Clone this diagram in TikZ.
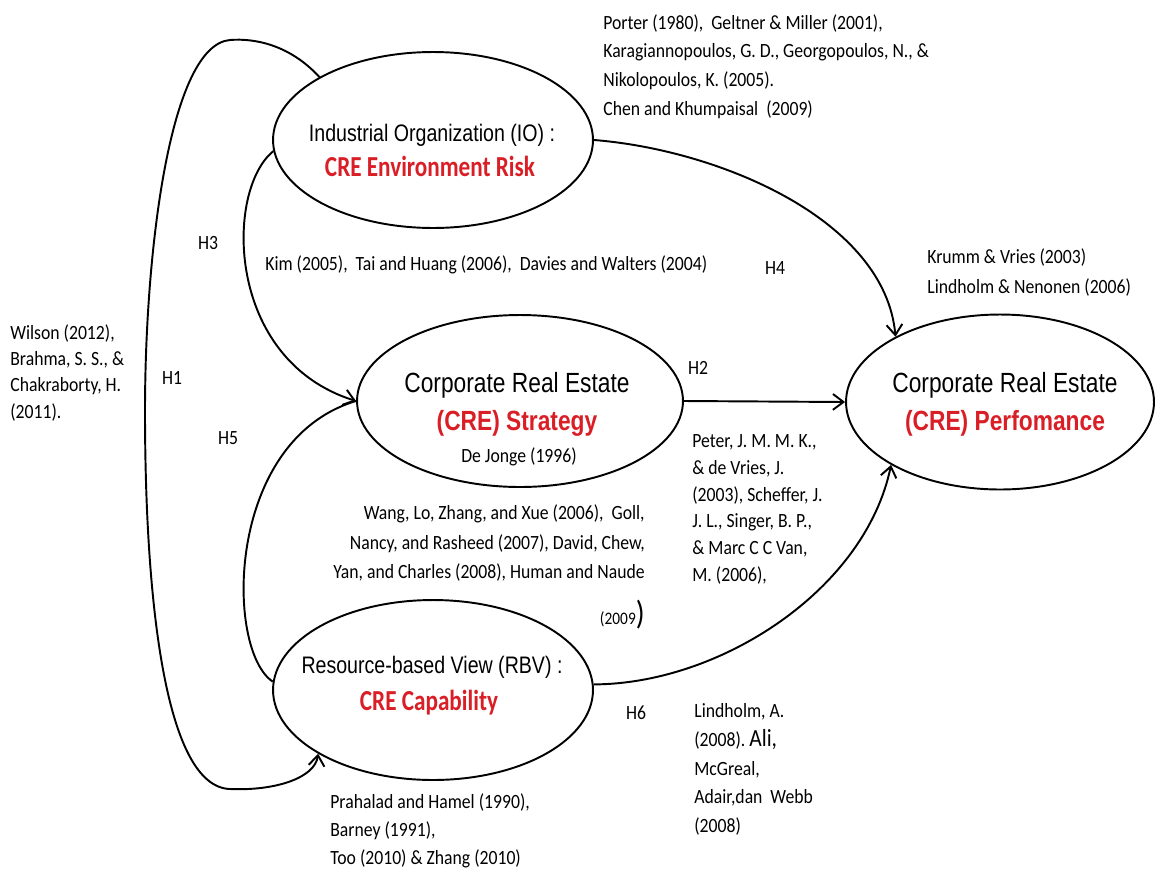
\documentclass[tikz,border=0pt]{standalone}
\usepackage{fontspec}
\usetikzlibrary{shapes.geometric,arrows.meta}
\setmainfont{Carlito}
\newfontfamily\reffont[FakeStretch=0.875]{Carlito}
\newfontfamily\headfont[FakeStretch=0.82]{Liberation Sans}
\newfontfamily\redfont[FakeStretch=0.8]{Carlito}
\definecolor{crered}{RGB}{218,30,38}
\begin{document}
\begin{tikzpicture}[x=0.02cm,y=-0.02cm,
  ell/.style={draw, ellipse, line width=1.1pt, inner sep=0pt},
  conn/.style={line width=1.1pt},
  arr/.style={conn, -{Straight Barb[length=6pt,width=9pt,line width=1.1pt]}},
  ref/.style={font=\reffont\fontsize{11.5}{16.4}\selectfont, inner sep=0pt, align=left},
  hyp/.style={font=\reffont\fontsize{11.5}{14}\selectfont, inner sep=0pt},
  head/.style={font=\headfont\fontsize{15.8}{18}\selectfont, inner sep=0pt},
  headsm/.style={font=\headfont\fontsize{13.6}{16}\selectfont, inner sep=0pt},
  redhead/.style={font=\headfont\bfseries\fontsize{15.8}{18}\selectfont, text=crered, inner sep=0pt},
  redcal/.style={font=\redfont\bfseries\fontsize{16.5}{18}\selectfont, text=crered, inner sep=0pt}
]
\useasboundingbox[fill=white] (0,0) rectangle (1158,872);

% ellipses
\node[ell, minimum width=6.4cm, minimum height=3.52cm] (io) at (433,140) {};
\node[ell, minimum width=6.52cm, minimum height=3.44cm] (strat) at (520,401) {};
\node[ell, minimum width=6.16cm, minimum height=3.5cm] (perf) at (1000,402) {};
\node[ell, minimum width=6.4cm, minimum height=3.6cm] (rbv) at (433,690) {};

% ellipse texts
\node[headsm] (ioA) at (432,135) {Industrial Organization (IO) :};
\node[redcal] (ioB) at (430,166) {CRE Environment Risk};
\node[head] (stA) at (517,385) {Corporate Real Estate};
\node[redhead] (stB) at (517,423) {(CRE) Strategy};
\node[hyp] (stC) at (519,457) {De Jonge (1996)};
\node[head] (peA) at (1005,385) {Corporate Real Estate};
\node[redhead] (peB) at (1005,423) {(CRE) Perfomance};
\node[headsm] (rbA) at (432,667) {Resource-based View (RBV) :};
\node[redcal] (rbB) at (429,703) {CRE Capability};

% connectors
\draw[arr] (io.151) .. controls (290,45) and (255,38) .. (230,40)
  .. controls (170,45) and (145,250) .. (145,411)
  .. controls (145,600) and (165,787) .. (230,789)
  .. controls (275,791) and (315,778) .. (rbv.209);
\draw[arr] (io.184) .. controls (225,190) and (225,360) .. (strat.west);
\draw[conn] (rbv.177) .. controls (225,650) and (225,440) .. (strat.west);
\draw[arr] (io.east) .. controls (720,150) and (885,220) .. (perf.148);
\draw[arr] (strat.east) -- (perf.west);
\draw[arr] (rbv.2) .. controls (720,684) and (865,590) .. (perf.210);

% hypothesis labels
\node[hyp] (h3) at (208,243) {H3};
\node[hyp] (h1) at (172,378) {H1};
\node[hyp] (h5) at (228,438) {H5};
\node[hyp] (h4) at (775,268) {H4};
\node[hyp] (h2) at (698,368) {H2};
\node[hyp] (h6) at (636,713) {H6};

% reference texts
\node[ref, anchor=north west] (refTop) at (603,14)
  {Porter (1980),\ \ Geltner \& Miller (2001),\\
   Karagiannopoulos,\ G. D., Georgopoulos, N., \&\\
   Nikolopoulos, K. (2005).\\
   Chen and Khumpaisal\ \ (2009)};
\node[ref, anchor=west] (refKim) at (265,265)
  {Kim (2005),\ \ Tai and Huang (2006),\ \ Davies and Walters (2004)};
\node[ref, anchor=north west, font=\reffont\fontsize{11.5}{17}\selectfont] (refKrumm) at (927,248)
  {Krumm \& Vries (2003)\\ Lindholm \& Nenonen (2006)};
\node[ref, anchor=north west, font=\reffont\fontsize{11.5}{15.3}\selectfont] (refPeter) at (692,434)
  {Peter, J. M. M. K.,\\ \& de Vries, J.\\ (2003),\ Scheffer, J.\\ J. L., Singer,\ B. P.,\\ \& Marc C C Van,\\ M. (2006),};
\node[ref, anchor=north east, align=right, font=\reffont\fontsize{11.5}{17}\selectfont] (refWang) at (645,504)
  {Wang, Lo, Zhang,\ and Xue (2006),\ \ Goll,\\ Nancy, and Rasheed (2007), David, Chew,\\ Yan, and Charles (2008),\ Human and Naude};
\node[anchor=base east, inner sep=0pt] (refWang2) at (645,624)
  {{\reffont\fontsize{10}{12}\selectfont(2009}{\reffont\fontsize{19}{20}\selectfont)}};
\node[ref, anchor=north west] (refLind) at (694,703)
  {Lindholm, A.\\ (2008).\ {\fontsize{14}{16}\selectfont Ali,}\\ McGreal,\\ Adair,dan\ \ Webb\\ (2008)};
\node[ref, anchor=north west, font=\reffont\fontsize{11.5}{15.9}\selectfont] (refPra) at (330,793)
  {Prahalad and Hamel (1990),\\ Barney (1991),\\ Too (2010) \& Zhang (2010)};
\node[ref, anchor=north west, font=\reffont\fontsize{11.5}{15}\selectfont] (refWil) at (10,324)
  {Wilson (2012),\\ Brahma, S. S., \&\\ Chakraborty, H.\\ (2011).};
\end{tikzpicture}
\end{document}
